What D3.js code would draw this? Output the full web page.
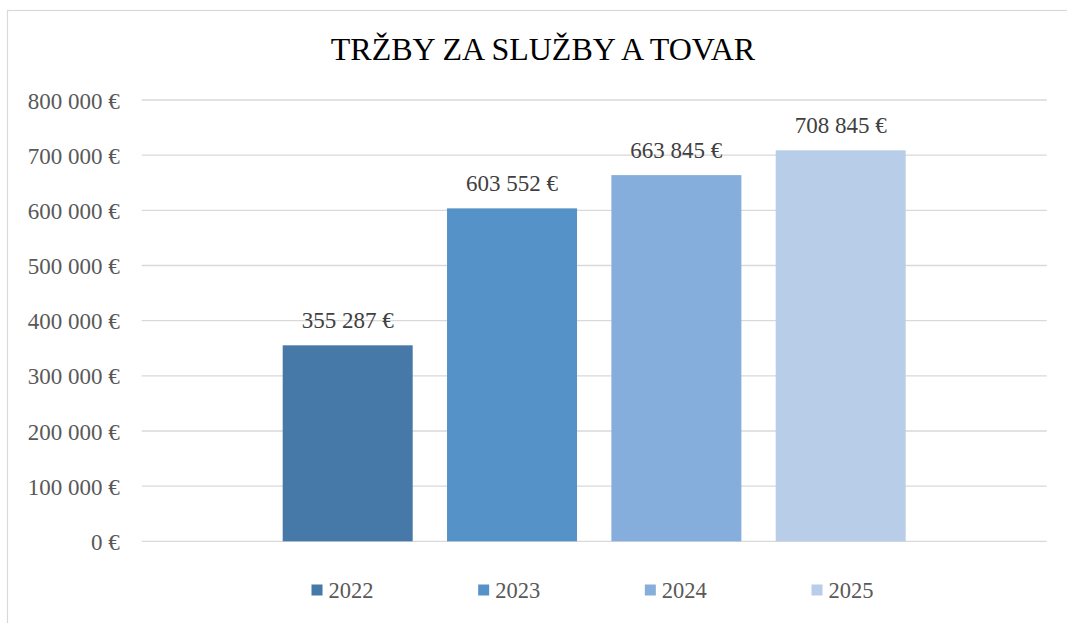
<!DOCTYPE html>
<html>
<head>
<meta charset="utf-8">
<script src="https://cdn.jsdelivr.net/npm/d3@7"></script>
<style>
  body { margin: 0; background: #fff; }
  text { font-family: 'Liberation Serif', 'Times New Roman', serif; }
</style>
</head>
<body>
<div id="chart"></div>
<script>
const years = ['2022', '2023', '2024', '2025']
const revenue = [355287, 603552, 663845, 708845]
const yTicks = [0, 100000, 200000, 300000, 400000, 500000, 600000, 700000, 800000]
const colors = ['#4679A8', '#5592C8', '#85AEDC', '#B8CDE8']

const width = 1067
const height = 623

const svg = d3
  .select('#chart')
  .append('svg')
  .attr('width', width)
  .attr('height', height)

// chart frame
svg
  .append('rect')
  .attr('x', 7.5)
  .attr('y', 10.5)
  .attr('width', width + 20)
  .attr('height', height + 20)
  .attr('fill', '#fff')
  .attr('stroke', '#d9d9d9')
  .attr('stroke-width', 1.2)

const fmt = v => d3.format(',')(v).replace(/,/g, ' ') + ' €'

const xPositionScale = d3
  .scaleBand()
  .domain(years)
  .range([141.7, 1046.7])
  .paddingInner(0.209)
  .paddingOuter(0.858)

const yPositionScale = d3
  .scaleLinear()
  .domain([0, 800000])
  .range([541.3, 100])

// gridlines
svg
  .selectAll('.grid')
  .data(yTicks)
  .enter()
  .append('line')
  .attr('class', 'grid')
  .attr('x1', 141.7)
  .attr('x2', 1046.7)
  .attr('y1', d => yPositionScale(d))
  .attr('y2', d => yPositionScale(d))
  .attr('stroke', '#d9d9d9')
  .attr('stroke-width', 1.3)

// y axis labels
const yAxis = d3
  .axisLeft(yPositionScale)
  .tickValues(yTicks)
  .tickFormat(fmt)
  .tickSize(0)
  .tickPadding(22)
svg
  .append('g')
  .attr('class', 'axis y-axis')
  .attr('transform', 'translate(141.7,0)')
  .call(yAxis)
  .call(g => g.select('.domain').remove())
  .call(g =>
    g
      .selectAll('text')
      .attr('font-size', 23)
      .attr('fill', '#595959')
      .attr('dy', '0.35em')
  )

// bars
svg
  .selectAll('.bar')
  .data(years)
  .enter()
  .append('rect')
  .attr('class', 'bar')
  .attr('x', d => xPositionScale(d))
  .attr('width', xPositionScale.bandwidth())
  .attr('y', (d, i) => yPositionScale(revenue[i]))
  .attr('height', (d, i) => yPositionScale(0) - yPositionScale(revenue[i]))
  .attr('fill', (d, i) => colors[i])

// value labels
svg
  .selectAll('.value-label')
  .data(years)
  .enter()
  .append('text')
  .attr('class', 'value-label')
  .attr('x', d => xPositionScale(d) + xPositionScale.bandwidth() / 2)
  .attr('y', (d, i) => yPositionScale(revenue[i]) - 17.5)
  .attr('text-anchor', 'middle')
  .attr('font-size', 23)
  .attr('fill', '#404040')
  .text((d, i) => fmt(revenue[i]))

// title
svg
  .append('text')
  .attr('x', 543)
  .attr('y', 59.5)
  .attr('text-anchor', 'middle')
  .attr('font-size', 32)
  .attr('fill', '#000')
  .text('TRŽBY ZA SLUŽBY A TOVAR')

// legend
const legendX = d3.scalePoint().domain(years).range([311.5, 811.5])
const legend = svg
  .selectAll('.legend')
  .data(years)
  .enter()
  .append('g')
  .attr('class', 'legend')
  .attr('transform', d => 'translate(' + legendX(d) + ',584.5)')

legend
  .append('rect')
  .attr('width', 11)
  .attr('height', 11)
  .attr('fill', (d, i) => colors[i])

legend
  .append('text')
  .attr('x', 17)
  .attr('y', 13.5)
  .attr('font-size', 22.5)
  .attr('fill', '#595959')
  .text(d => d)
</script>
</body>
</html>
